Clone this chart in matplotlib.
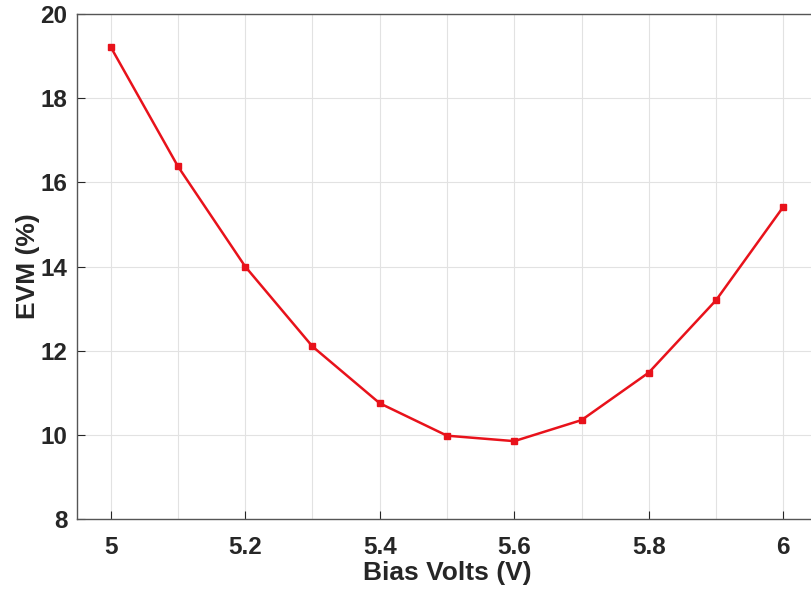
import matplotlib
matplotlib.use("Agg")
import matplotlib.pyplot as plt

bias = [5.0, 5.1, 5.2, 5.3, 5.4, 5.5, 5.6, 5.7, 5.8, 5.9, 6.0]
evm = [19.22, 16.38, 14.0, 12.1, 10.75, 9.98, 9.85, 10.35, 11.48, 13.2, 15.42]

plt.rcParams["font.family"] = ["Liberation Sans", "DejaVu Sans"]
plt.rcParams["font.weight"] = "bold"

fig = plt.figure(figsize=(8.11, 5.89), dpi=100)
# axes frame runs past the right edge of the image, like the reference
ax = fig.add_axes([77 / 811, 1 - 519 / 589, 740 / 811, 505 / 589])

ax.plot(bias, evm, color="#e8121b", linewidth=1.8, marker="s", markersize=4.5)

ax.set_xlim(4.95, 6.05)
ax.set_ylim(8, 20)
ax.set_xticks([5, 5.2, 5.4, 5.6, 5.8, 6])
ax.set_xticklabels(["5", "5.2", "5.4", "5.6", "5.8", "6"])
ax.set_xticks([5.1, 5.3, 5.5, 5.7, 5.9], minor=True)
ax.set_yticks([8, 10, 12, 14, 16, 18, 20])

ax.grid(True, which="both", color="#e2e2e2", linewidth=0.8)
ax.set_axisbelow(True)
ax.tick_params(axis="both", which="major", direction="in", length=6, width=0.8,
               labelsize=17.5, colors="#262626")
ax.tick_params(axis="x", which="major", pad=12)
ax.tick_params(axis="y", which="major", pad=7)
ax.tick_params(axis="x", which="minor", length=0)
for s in ax.spines.values():
    s.set_color("#555555")
    s.set_linewidth(1.0)

ax.set_xlabel("Bias Volts (V)", fontsize=19, fontweight="bold", color="#262626", labelpad=2)
ax.set_ylabel("EVM (%)", fontsize=19, fontweight="bold", color="#262626", labelpad=0)

fig.savefig("out.png", dpi=100)
